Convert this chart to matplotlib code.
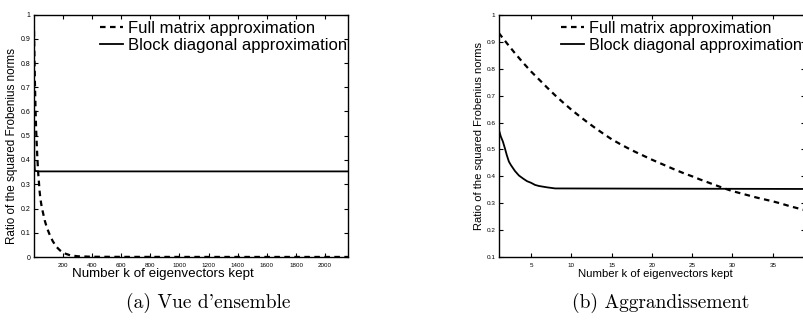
"""
Ratio of squared Frobenius norms vs number of eigenvectors kept.
(a) full range, (b) zoom on the first 39 eigenvectors.
"""

import numpy as np
import matplotlib.pyplot as plt

plt.rcParams["font.family"] = ["Liberation Sans", "DejaVu Sans"]

# =========================================================
# DATA
# =========================================================

# first 39 eigenvectors (zoomed panel)
k_zoom = [1, 2, 3, 4, 5, 6, 7, 8, 9, 10, 11, 12, 13, 14, 15, 16, 17, 18, 19, 20,
          21, 22, 23, 24, 25, 26, 27, 28, 29, 30, 31, 32, 33, 34, 35, 36, 37, 38, 39]
full_zoom = [0.933, 0.895, 0.858, 0.823, 0.790, 0.760, 0.730, 0.701, 0.674, 0.648,
             0.624, 0.601, 0.579, 0.558, 0.538, 0.521, 0.505, 0.490, 0.476, 0.462,
             0.449, 0.436, 0.423, 0.411, 0.400, 0.388, 0.377, 0.366, 0.355, 0.345,
             0.337, 0.329, 0.321, 0.314, 0.307, 0.299, 0.290, 0.282, 0.274]

# tail of the full-matrix curve (overview panel)
k_tail = [45, 53, 60, 75, 90, 110, 130, 155, 180, 210, 250, 300, 400, 600, 1000, 1500, 2157]
full_tail = [0.240, 0.210, 0.190, 0.150, 0.120, 0.090, 0.065, 0.042, 0.027, 0.015,
             0.007, 0.003, 0.001, 0.0005, 0.0003, 0.0002, 0.0002]

# block diagonal curve
k_block = [1, 1.25, 1.5, 1.75, 2, 2.25, 2.5, 3, 3.5, 4, 4.5, 5, 5.5, 6, 7, 8, 39, 2157]
block = [0.574, 0.548, 0.530, 0.505, 0.478, 0.455, 0.442, 0.420, 0.403, 0.392,
         0.382, 0.376, 0.368, 0.364, 0.359, 0.355, 0.353, 0.353]

LABELS = ["Full matrix approximation", "Block diagonal approximation"]
CAPTIONS = ["(a) Vue d'ensemble", "(b) Aggrandissement"]
YLABEL = "Ratio of the squared Frobenius norms"
XLABEL = "Number k of eigenvectors kept"

k_full = k_zoom + k_tail
full = full_zoom + full_tail

# =========================================================
# PLOT
# =========================================================

W, H = 804, 321
fig = plt.figure(figsize=(W / 100, H / 100), dpi=100)


def px_axes(x0, x1, y0, y1):
    return fig.add_axes([x0 / W, 1 - y1 / H, (x1 - x0) / W, (y1 - y0) / H])


def style(ax, xtick_fs, ytick_fs):
    for s in ax.spines.values():
        s.set_linewidth(1.0)
    ax.tick_params(direction="in", top=True, right=True, length=3, width=0.8)
    ax.tick_params(axis="x", labelsize=xtick_fs, pad=4)
    ax.tick_params(axis="y", labelsize=ytick_fs, pad=2.5)


ax1 = px_axes(34, 348, 14.5, 257)
ax2 = px_axes(498.8, 805, 15, 257)

for ax in (ax1, ax2):
    ax.plot(k_full, full, color="black", lw=1.6, ls=(0, (2.5, 2)), label=LABELS[0])
    ax.plot(k_block, block, color="black", lw=1.3, label=LABELS[1])

# overview
ax1.set_xlim(1, 2157)
ax1.set_ylim(0, 1)
ax1.set_xticks(np.arange(200, 2001, 200))
ax1.set_yticks(np.arange(0, 1.01, 0.1))
ax1.set_yticklabels(["0"] + [f"{v:.1f}" for v in np.arange(0.1, 0.95, 0.1)] + ["1"])
style(ax1, 4.5, 5)
ax1.set_xlabel(XLABEL, fontsize=9.6)
ax1.xaxis.set_label_coords(0.41, -0.045)
ax1.set_ylabel(YLABEL, fontsize=8.4)
ax1.yaxis.set_label_coords(-0.05, 0.458)

# zoom
ax2.set_xlim(1, 39)
ax2.set_ylim(0.1, 1)
ax2.set_xticks(np.arange(5, 36, 5))
ax2.set_yticks(np.arange(0.1, 1.01, 0.1))
ax2.set_yticklabels([f"{v:.1f}" for v in np.arange(0.1, 0.95, 0.1)] + ["1"])
style(ax2, 4.5, 4.6)
ax2.set_xlabel(XLABEL, fontsize=8.2)
ax2.xaxis.set_label_coords(0.51, -0.05)
ax2.set_ylabel(YLABEL, fontsize=8.0)
ax2.yaxis.set_label_coords(-0.047, 0.50)

for ax, x_px, fs in ((ax1, 100, 12), (ax2, 561, 11.7)):
    ax.legend(loc="upper left", bbox_to_anchor=(x_px / W, 1 - 21 / H),
              bbox_transform=fig.transFigure, frameon=False, fontsize=fs,
              borderpad=0, borderaxespad=0, handlelength=1.4,
              handletextpad=0.3, labelspacing=0.1)

fig.text(208 / W, 1 - 303 / H, CAPTIONS[0], ha="center", va="center",
         fontsize=14, family=["cmr10", "DejaVu Serif"])
fig.text(661 / W, 1 - 303 / H, CAPTIONS[1], ha="center", va="center",
         fontsize=14, family=["cmr10", "DejaVu Serif"])

plt.savefig("out.png", dpi=100)
plt.close()
